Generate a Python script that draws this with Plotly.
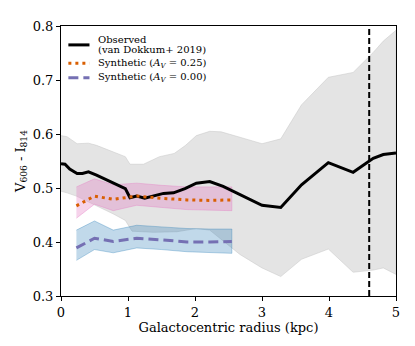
import plotly.graph_objects as go

# observed colour profile (van Dokkum+ 2019)
obs_r = [0.0, 0.06, 0.13, 0.24, 0.32, 0.41, 0.53, 0.68, 0.83, 0.96, 1.03, 1.13, 1.25, 1.38,
         1.53, 1.68, 1.85, 2.02, 2.22, 2.42, 2.67, 3.0, 3.28, 3.59, 3.99, 4.36, 4.66, 4.81, 5.0]
obs_c = [0.545, 0.544, 0.535, 0.527, 0.527, 0.530, 0.524, 0.515, 0.506, 0.499, 0.482, 0.485, 0.481, 0.485,
         0.490, 0.491, 0.499, 0.509, 0.512, 0.503, 0.488, 0.468, 0.464, 0.506, 0.547, 0.529, 0.555, 0.562, 0.565]

# observed uncertainty envelope
up_r = [0.0, 0.09, 0.24, 0.41, 0.53, 0.78, 0.96, 1.03, 1.23, 1.47, 1.69, 1.86, 2.02, 2.22, 2.39,
        2.67, 3.0, 3.28, 3.59, 3.99, 4.36, 4.66, 4.81, 5.0]
up_c = [0.597, 0.595, 0.582, 0.583, 0.579, 0.567, 0.558, 0.544, 0.544, 0.558, 0.564, 0.579, 0.597,
        0.605, 0.604, 0.594, 0.582, 0.591, 0.654, 0.705, 0.714, 0.751, 0.772, 0.792]
lo_r = [0.0, 0.09, 0.23, 0.53, 0.78, 0.96, 1.06, 1.38, 1.73, 2.02, 2.22, 2.67, 3.0, 3.28, 3.59,
        3.99, 4.36, 4.66, 4.81, 5.0]
lo_c = [0.494, 0.491, 0.485, 0.467, 0.452, 0.440, 0.420, 0.418, 0.419, 0.425, 0.422, 0.377, 0.352,
        0.336, 0.368, 0.387, 0.344, 0.348, 0.352, 0.340]

# synthetic profiles
syn_r = [0.23, 0.5, 0.78, 1.13, 1.5, 1.88, 2.22, 2.55]
av25 = [0.467, 0.485, 0.479, 0.485, 0.481, 0.478, 0.477, 0.478]
av25_hi = [0.502, 0.517, 0.506, 0.509, 0.505, 0.502, 0.502, 0.502]
av25_lo = [0.444, 0.470, 0.458, 0.468, 0.464, 0.460, 0.459, 0.458]
av00 = [0.389, 0.407, 0.401, 0.407, 0.404, 0.400, 0.400, 0.401]
av00_hi = [0.422, 0.439, 0.422, 0.431, 0.428, 0.425, 0.424, 0.424]
av00_lo = [0.366, 0.386, 0.380, 0.389, 0.386, 0.382, 0.380, 0.379]

r_eff = 4.6

BLACK = dict(color='black', width=3)
ORANGE = dict(color='#d95f02', width=3, dash='3px,4px')
PURPLE = dict(color='#7570b3', width=3, dash='10px,5px')

fig = go.Figure()

# envelopes
fig.add_trace(go.Scatter(x=up_r + lo_r[::-1], y=up_c + lo_c[::-1], fill='toself', mode='lines',
                         fillcolor='rgba(210,210,210,0.6)', line=dict(color='rgba(195,195,195,0.6)', width=0.8),
                         showlegend=False, hoverinfo='skip'))
fig.add_trace(go.Scatter(x=syn_r + syn_r[::-1], y=av25_hi + av25_lo[::-1], fill='toself', mode='lines',
                         fillcolor='rgba(227,119,194,0.32)', line=dict(color='rgba(227,119,194,0.45)', width=0.8),
                         showlegend=False, hoverinfo='skip'))
fig.add_trace(go.Scatter(x=syn_r + syn_r[::-1], y=av00_hi + av00_lo[::-1], fill='toself', mode='lines',
                         fillcolor='rgba(31,119,180,0.28)', line=dict(color='rgba(31,119,180,0.4)', width=0.8),
                         showlegend=False, hoverinfo='skip'))

# lines
fig.add_trace(go.Scatter(x=obs_r, y=obs_c, mode='lines', line=BLACK, showlegend=False,
                         name='Observed (van Dokkum+ 2019)'))
fig.add_trace(go.Scatter(x=syn_r, y=av25, mode='lines', line=ORANGE, showlegend=False,
                         name='Synthetic (A_V = 0.25)'))
fig.add_trace(go.Scatter(x=syn_r, y=av00, mode='lines', line=PURPLE, showlegend=False,
                         name='Synthetic (A_V = 0.00)'))

fig.add_vline(x=r_eff, line=dict(color='black', width=2, dash='6px,3px'))

# legend drawn by hand (matplotlib-like compact spacing)
legend_items = [
    (0.930, BLACK, [(0.951, 'Observed'), (0.912, '(van Dokkum+ 2019)')]),
    (0.862, ORANGE, [(0.862, 'Synthetic (<i>A<sub>V</sub></i> = 0.25)')]),
    (0.808, PURPLE, [(0.808, 'Synthetic (<i>A<sub>V</sub></i> = 0.00)')]),
]
for ly, style, texts in legend_items:
    fig.add_shape(type='line', xref='paper', yref='paper', x0=0.022, x1=0.085, y0=ly, y1=ly, line=style)
    for ty, txt in texts:
        fig.add_annotation(xref='paper', yref='paper', x=0.104, y=ty, xanchor='left', yanchor='middle',
                           text=txt, showarrow=False, font=dict(size=10, color='black'))

axis_style = dict(showline=True, linecolor='black', linewidth=1, mirror=True, ticks='outside',
                  ticklen=4, tickcolor='black', showgrid=False, zeroline=False,
                  tickfont=dict(size=13, color='black'))
fig.update_xaxes(range=[0, 5], dtick=1, title=dict(text='Galactocentric radius (kpc)', standoff=2,
                 font=dict(size=13, color='black')), **axis_style)
fig.update_yaxes(range=[0.3, 0.8], dtick=0.1, tickformat='.1f',
                 title=dict(text='V<sub>606</sub> - I<sub>814</sub>', standoff=4, font=dict(size=13, color='black')),
                 **axis_style)

# the page body adds an 8px offset, so the figure is shrunk by that amount
fig.update_layout(
    width=407, height=338,
    margin=dict(l=53, r=19, t=11, b=50),
    plot_bgcolor='white', paper_bgcolor='white',
    font=dict(family='DejaVu Serif', color='black'),
    showlegend=False,
)

fig.write_html("out.html")
